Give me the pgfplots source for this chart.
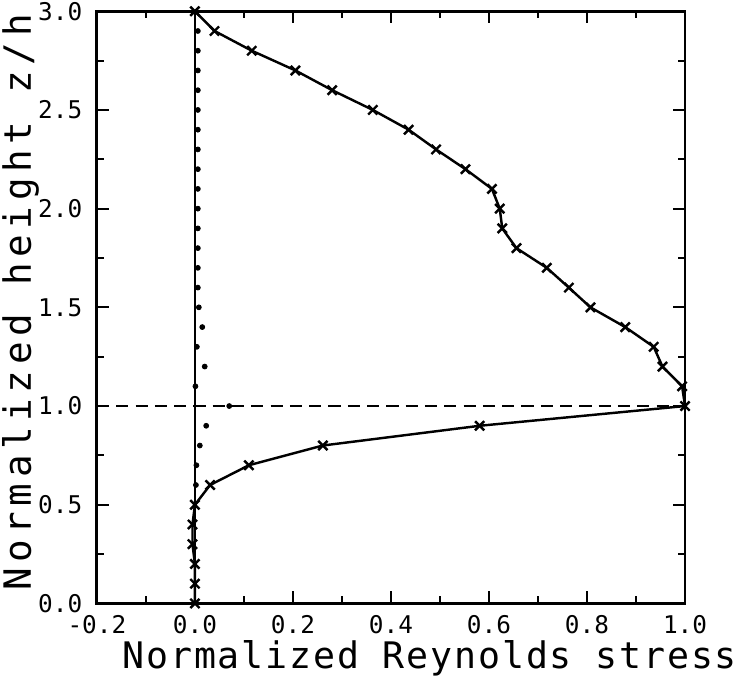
\documentclass[border=0pt]{standalone}
\usepackage{fontspec}
\setmainfont{DejaVu Sans Mono}
\newfontfamily\xlabfont[LetterSpace=5]{DejaVu Sans Mono}
\newfontfamily\ylabfont[LetterSpace=15]{DejaVu Sans Mono}
\usepackage{pgfplots}
\pgfplotsset{compat=1.18}

\begin{document}
\begin{tikzpicture}
\begin{axis}[
  scale only axis, width=289.5pt, height=291.5pt,
  xmin=-0.2, xmax=1.0, ymin=0, ymax=3.0,
  xtick={-0.2,0,0.2,0.4,0.6,0.8,1.0}, minor x tick num=1,
  ytick={0,0.5,1.0,1.5,2.0,2.5,3.0}, minor y tick num=1,
  tick align=inside, major tick length=6pt, minor tick length=3.5pt,
  axis line style={line width=1.4pt},
  every tick/.style={black, line width=1pt},
  /pgf/number format/assume math mode=true,
  xticklabel style={inner sep=1pt, yshift=-4.5pt, /pgf/number format/.cd, fixed, fixed zerofill, precision=1},
  yticklabel style={inner sep=1pt, xshift=-6pt, /pgf/number format/.cd, fixed, fixed zerofill, precision=1},
  tick label style={font=\fontsize{12}{14}\selectfont},
  xlabel={Normalized Reynolds stress},
  ylabel={Normalized height z/h},
  xlabel style={at={(axis description cs:0.566,-0.092)}, anchor=center, inner sep=0pt, font=\xlabfont\fontsize{18}{22}\selectfont},
  ylabel style={at={(axis description cs:-0.13,0.508)}, anchor=center, inner sep=1pt, font=\ylabfont\fontsize{18.5}{22}\selectfont},
]
% reference line at zero stress
\addplot[black, line width=1pt] coordinates {(0,0)(0,3)};
% interface height
\addplot[black, line width=1pt, dash pattern=on 6pt off 3.5pt] coordinates {(-0.2,1)(1,1)};
% dotted profile
\addplot[black, only marks, mark=*, mark size=1.2pt] coordinates {
  (0.006,2.9)(0.006,2.8)(0.006,2.7)(0.006,2.6)(0.006,2.5)(0.006,2.4)(0.006,2.3)
  (0.006,2.2)(0.006,2.1)(0.006,2.0)(0.006,1.9)(0.006,1.8)(0.006,1.7)(0.006,1.6)
  (0.008,1.5)(0.015,1.4)(0.004,1.3)(0.02,1.2)(0.001,1.1)(0.07,1.0)(0.023,0.9)
  (0.01,0.8)(0.003,0.7)(0.002,0.6)};
% measured profile
\addplot[black, line width=1.2pt, mark=x, mark size=3.2pt] coordinates {
  (0,0)(0,0.1)(0,0.2)(-0.005,0.3)(-0.005,0.4)(0,0.5)(0.031,0.6)(0.11,0.7)
  (0.261,0.8)(0.581,0.9)(1.0,1.0)(0.994,1.1)(0.954,1.2)(0.936,1.3)(0.878,1.4)
  (0.807,1.5)(0.763,1.6)(0.718,1.7)(0.656,1.8)(0.627,1.9)(0.622,2.0)(0.606,2.1)
  (0.552,2.2)(0.492,2.3)(0.436,2.4)(0.363,2.5)(0.28,2.6)(0.205,2.7)(0.116,2.8)
  (0.04,2.9)(0,3.0)};
\end{axis}
\end{tikzpicture}
\end{document}
